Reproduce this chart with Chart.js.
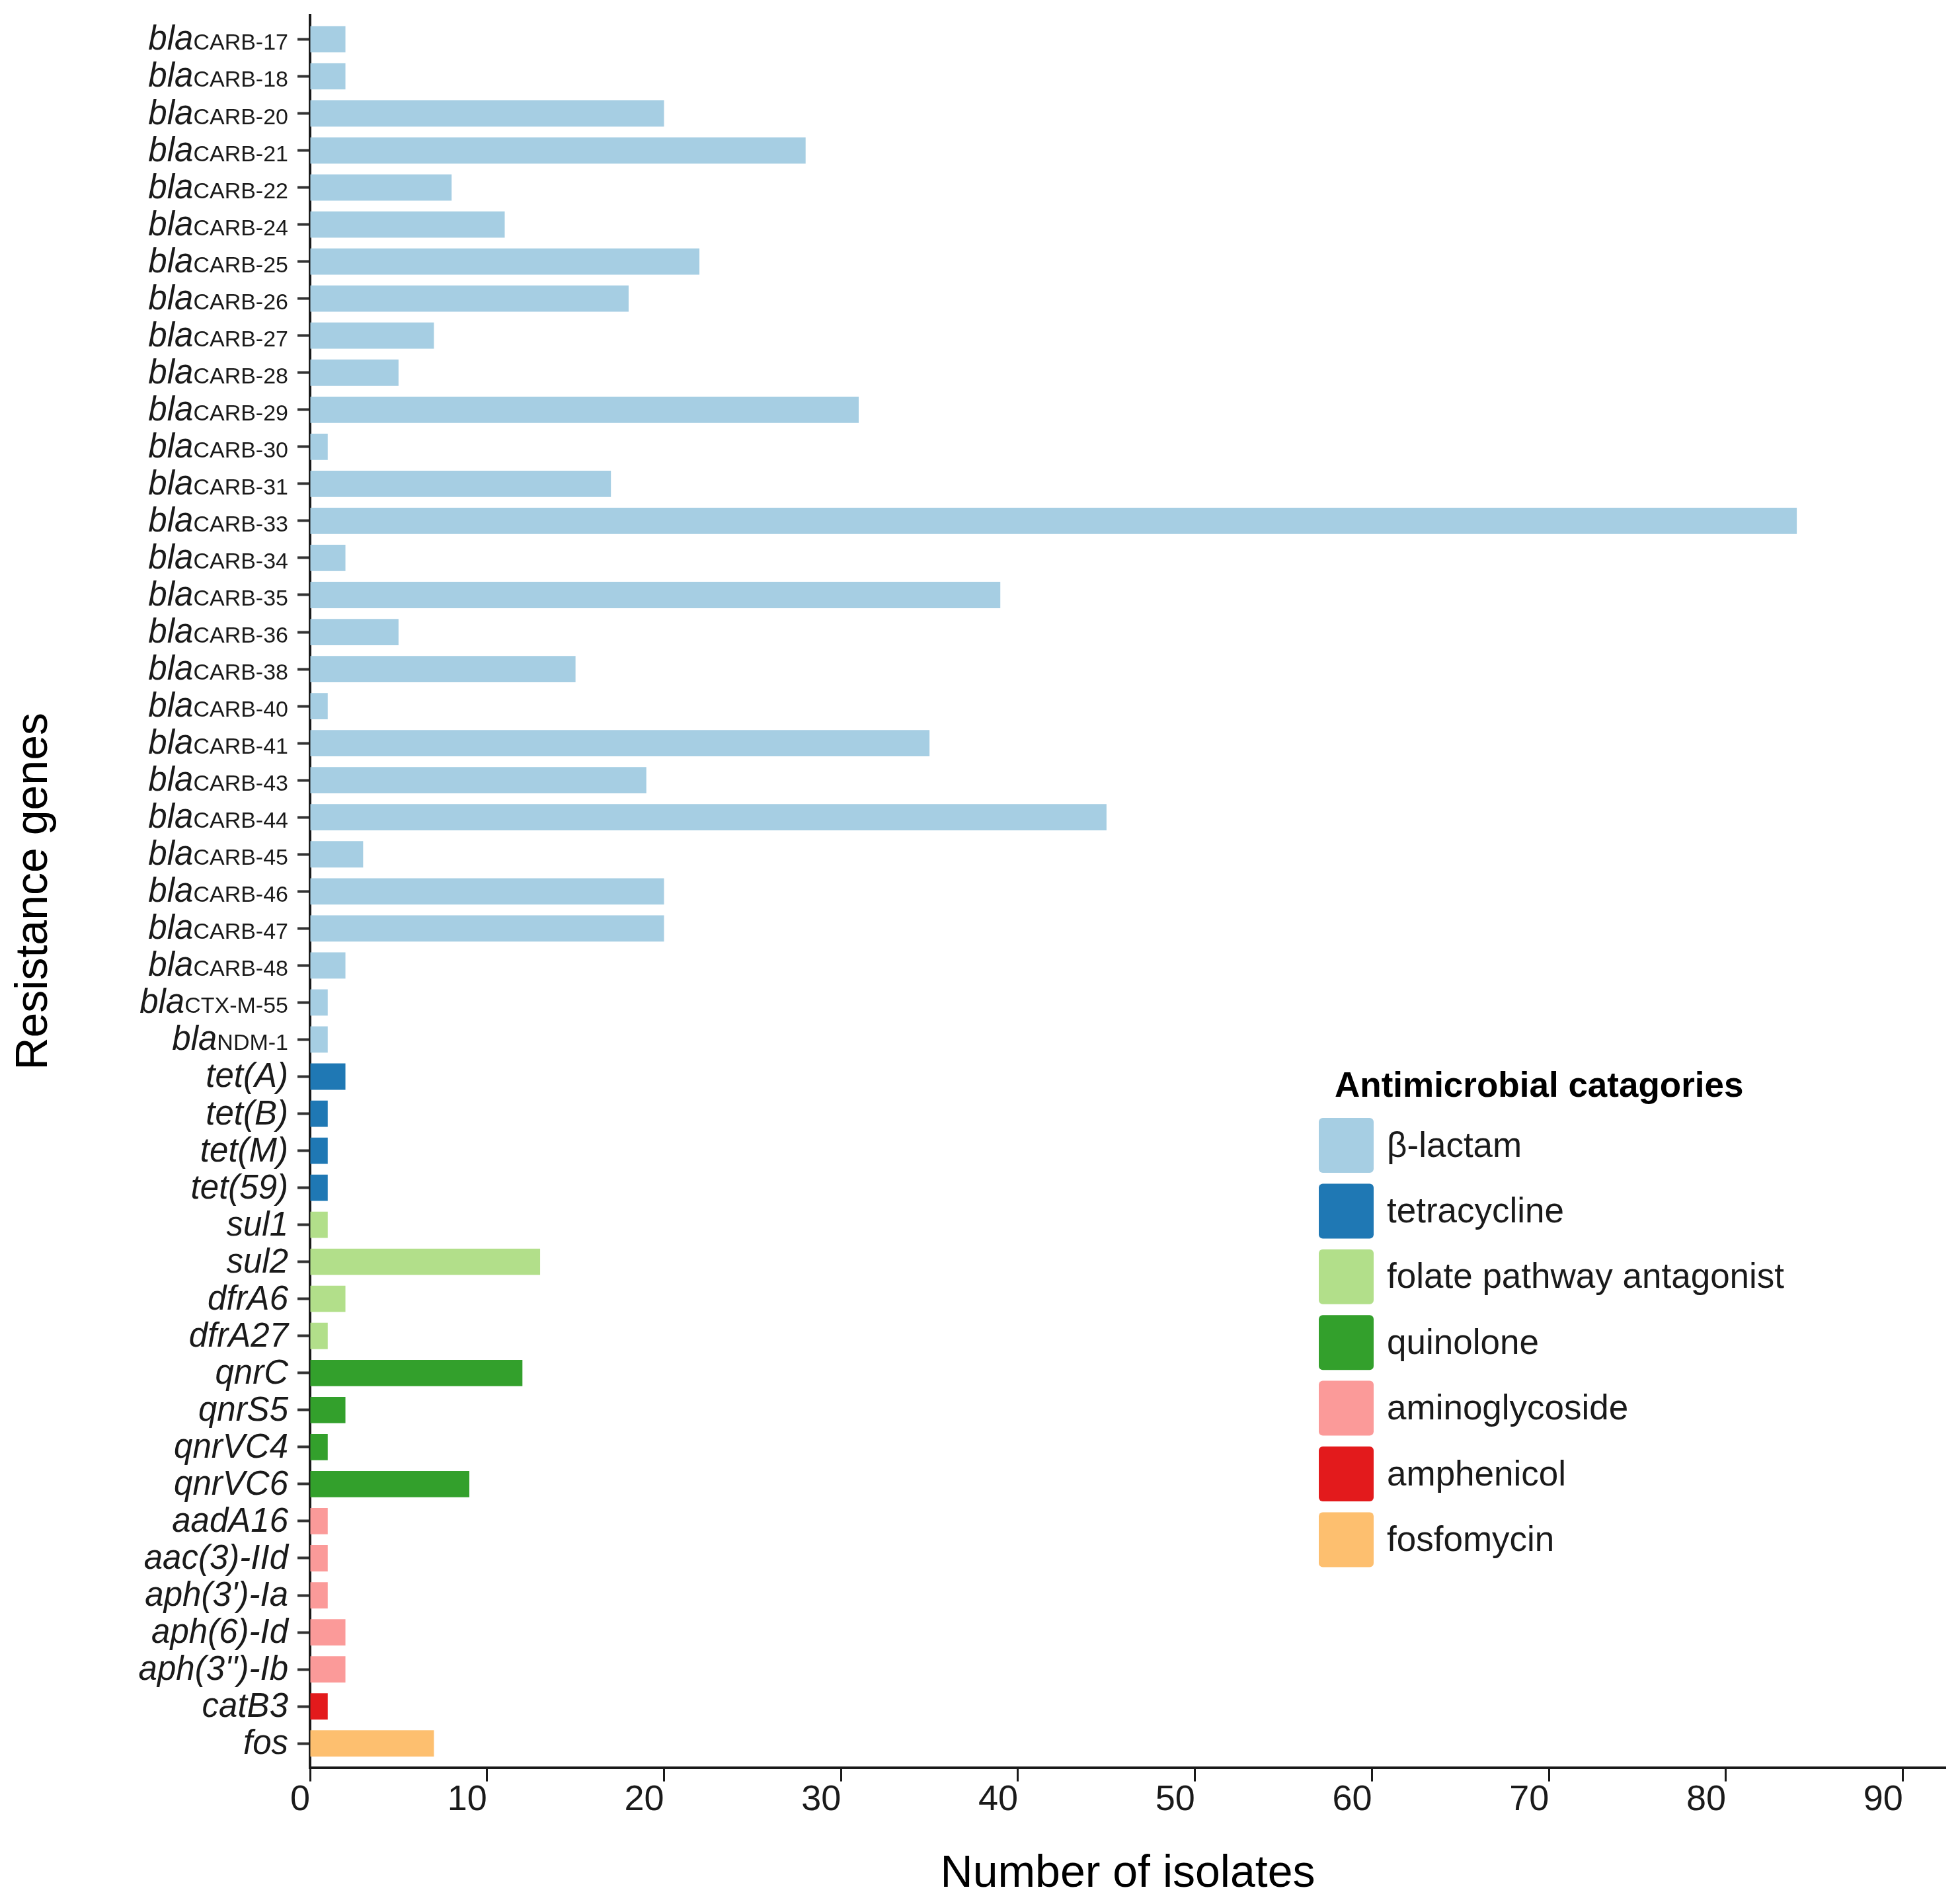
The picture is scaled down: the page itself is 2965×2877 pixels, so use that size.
<!DOCTYPE html>
<html>
<head>
<meta charset="utf-8">
<script src="https://cdn.jsdelivr.net/npm/chart.js@4.4.1/dist/chart.umd.min.js"></script>
<style>
  html, body { margin: 0; padding: 0; background: #fff; }
  #wrap { width: 2965px; height: 2877px; }
</style>
</head>
<body>
<div id="wrap"><canvas id="chart" width="2965" height="2877"></canvas></div>
<script>
// genes, top to bottom
const genes = [
  'blaCARB-17', 'blaCARB-18', 'blaCARB-20', 'blaCARB-21', 'blaCARB-22', 'blaCARB-24',
  'blaCARB-25', 'blaCARB-26', 'blaCARB-27', 'blaCARB-28', 'blaCARB-29', 'blaCARB-30',
  'blaCARB-31', 'blaCARB-33', 'blaCARB-34', 'blaCARB-35', 'blaCARB-36', 'blaCARB-38',
  'blaCARB-40', 'blaCARB-41', 'blaCARB-43', 'blaCARB-44', 'blaCARB-45', 'blaCARB-46',
  'blaCARB-47', 'blaCARB-48', 'blaCTX-M-55', 'blaNDM-1',
  'tet(A)', 'tet(B)', 'tet(M)', 'tet(59)',
  'sul1', 'sul2', 'dfrA6', 'dfrA27',
  'qnrC', 'qnrS5', 'qnrVC4', 'qnrVC6',
  'aadA16', 'aac(3)-IId', "aph(3')-Ia", 'aph(6)-Id', "aph(3'')-Ib",
  'catB3',
  'fos'
];

// number of isolates carrying each gene
const isolates = [
  2, 2, 20, 28, 8, 11,
  22, 18, 7, 5, 31, 1,
  17, 84, 2, 39, 5, 15,
  1, 35, 19, 45, 3, 20,
  20, 2, 1, 1,
  2, 1, 1, 1,
  1, 13, 2, 1,
  12, 2, 1, 9,
  1, 1, 1, 2, 2,
  1,
  7
];

// antimicrobial category of each gene
const geneCategory = [
  'β-lactam', 'β-lactam', 'β-lactam', 'β-lactam', 'β-lactam', 'β-lactam',
  'β-lactam', 'β-lactam', 'β-lactam', 'β-lactam', 'β-lactam', 'β-lactam',
  'β-lactam', 'β-lactam', 'β-lactam', 'β-lactam', 'β-lactam', 'β-lactam',
  'β-lactam', 'β-lactam', 'β-lactam', 'β-lactam', 'β-lactam', 'β-lactam',
  'β-lactam', 'β-lactam', 'β-lactam', 'β-lactam',
  'tetracycline', 'tetracycline', 'tetracycline', 'tetracycline',
  'folate pathway antagonist', 'folate pathway antagonist', 'folate pathway antagonist', 'folate pathway antagonist',
  'quinolone', 'quinolone', 'quinolone', 'quinolone',
  'aminoglycoside', 'aminoglycoside', 'aminoglycoside', 'aminoglycoside', 'aminoglycoside',
  'amphenicol',
  'fosfomycin'
];

const categories = ['β-lactam', 'tetracycline', 'folate pathway antagonist', 'quinolone',
  'aminoglycoside', 'amphenicol', 'fosfomycin'];
const categoryColors = ['#a6cee3', '#1f78b4', '#b2df8a', '#33a02c', '#fb9a99', '#e31a1c', '#fdbf6f'];

const xMax = 92.4;
const xStep = 10;
const legendTitle = 'Antimicrobial catagories';

const FONT = '"Liberation Sans", Arial, Helvetica, sans-serif';
const INK = '#1a1a1a';

// one dataset per category, so the legend follows the datasets
const datasets = categories.map((cat, i) => ({
  label: cat,
  data: isolates.map((v, j) => geneCategory[j] === cat ? v : null),
  backgroundColor: categoryColors[i],
  borderWidth: 0,
  grouped: false,
  barPercentage: 0.71,
  categoryPercentage: 1
}));

// gene names: italic, with the bla variant written small and upright
const geneLabels = {
  id: 'geneLabels',
  afterDraw(chart) {
    const { ctx, scales: { y } } = chart;
    const right = chart.chartArea.left - 33;
    ctx.save();
    ctx.fillStyle = INK;
    ctx.textAlign = 'right';
    ctx.textBaseline = 'alphabetic';
    y.ticks.forEach((t, i) => {
      const py = y.getPixelForTick(i) + 16;
      const name = chart.data.labels[i];
      if (name.startsWith('bla')) {
        const sub = name.slice(3);
        ctx.font = '34px ' + FONT;
        const w = ctx.measureText(sub).width;
        ctx.fillText(sub, right, py);
        ctx.font = 'italic 51px ' + FONT;
        ctx.fillText('bla', right - w, py);
      } else {
        ctx.font = 'italic 51px ' + FONT;
        ctx.fillText(name, right, py);
      }
    });
    ctx.restore();
  }
};

const categoryLegend = {
  id: 'categoryLegend',
  afterDraw(chart) {
    const { ctx } = chart;
    ctx.save();
    ctx.textAlign = 'left';
    ctx.textBaseline = 'alphabetic';
    ctx.fillStyle = '#000';
    ctx.font = 'bold 53px ' + FONT;
    ctx.fillText(legendTitle, 2019, 1659);
    chart.data.datasets.forEach((ds, i) => {
      const cy = 1732.5 + i * 99.4;
      ctx.fillStyle = ds.backgroundColor;
      ctx.beginPath();
      ctx.roundRect(1995, cy - 41.5, 83, 83, 6);
      ctx.fill();
      ctx.fillStyle = INK;
      ctx.font = '53px ' + FONT;
      ctx.fillText(ds.label, 2098, cy + 17);
    });
    ctx.restore();
  }
};

new Chart(document.getElementById('chart'), {
  type: 'bar',
  data: { labels: genes, datasets: datasets },
  plugins: [geneLabels, categoryLegend],
  options: {
    responsive: false,
    devicePixelRatio: 1,
    animation: false,
    indexAxis: 'y',
    layout: { padding: { top: 23, right: 22, bottom: 0, left: 0 } },
    plugins: {
      legend: { display: false },
      tooltip: { enabled: false }
    },
    scales: {
      x: {
        type: 'linear',
        position: 'bottom',
        min: 0,
        max: xMax,
        grid: { display: true, drawOnChartArea: false, drawTicks: true, tickLength: 21, tickWidth: 3, tickColor: INK },
        border: { display: true, color: INK, width: 4 },
        ticks: {
          stepSize: xStep,
          includeBounds: false,
          align: 'end',
          maxRotation: 0,
          padding: 2,
          color: INK,
          font: { family: FONT, size: 54, lineHeight: 1 }
        },
        title: {
          display: true,
          text: 'Number of isolates',
          color: '#000',
          font: { family: FONT, size: 68, lineHeight: 0.8 },
          padding: { top: 55, bottom: 15 }
        }
      },
      y: {
        type: 'category',
        offset: true,
        grid: { display: true, offset: false, drawOnChartArea: false, drawTicks: true, tickLength: 19, tickWidth: 4, tickColor: '#333' },
        border: { display: true, color: INK, width: 4 },
        ticks: { display: false },
        title: {
          display: true,
          text: 'Resistance genes',
          color: '#000',
          font: { family: FONT, size: 68, lineHeight: 1 },
          padding: { top: 18, bottom: 364 }
        },
        // a little more room above the first and below the last bar
        afterBuildTicks(scale) {
          scale._startValue -= 0.15;
          scale._valueRange += 0.3;
        }
      }
    }
  }
});
</script>
</body>
</html>
